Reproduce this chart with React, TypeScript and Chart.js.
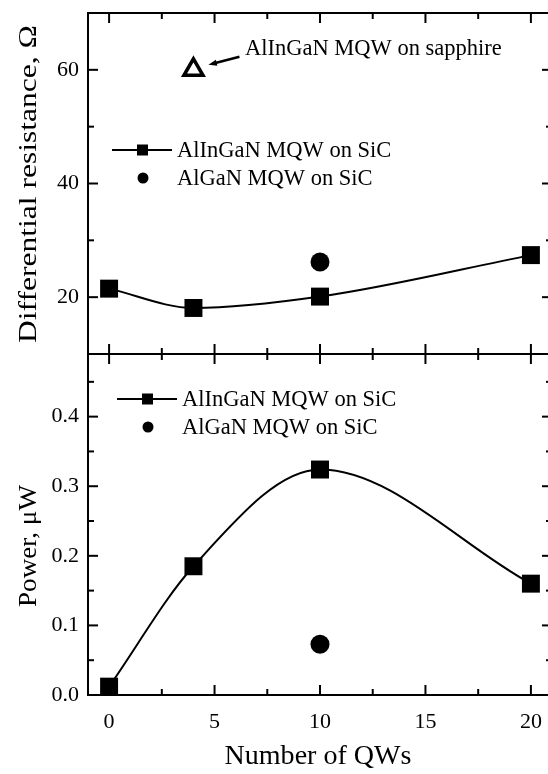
import React, { useEffect, useRef } from 'react';
import { Chart, registerables } from 'chart.js';

Chart.register(...registerables);

// ---- data ----
const qwCounts = [0, 4, 10, 20];
const resistanceAlInGaNSiC = [21.5, 18.1, 20.1, 27.4];
const algaNQw = [10];
const resistanceAlGaNSiC = [26.2];
const sapphireQw = [4];
const resistanceSapphire = [60];
const powerAlInGaNSiC = [0.012, 0.185, 0.324, 0.16];
const powerAlGaNSiC = [0.073];

const xTickValues = [0, 5, 10, 15, 20];
const resTickValues = [20, 40, 60];
const powTickValues = [0.0, 0.1, 0.2, 0.3, 0.4];

const legendLabels = ['AlInGaN MQW on SiC', 'AlGaN MQW on SiC'];
const sapphireLabel = 'AlInGaN MQW on sapphire';
const xTitle = 'Number of QWs';
const resTitle = 'Differential resistance, \u03A9';
const powTitle = 'Power, \u03BCW';

const FONT = '"Liberation Serif", "Times New Roman", serif';

const pts = (xs: number[], ys: number[]) => xs.map((x, i) => ({ x, y: ys[i] }));

function fitText(ctx: CanvasRenderingContext2D, text: string, cx: number, cy: number, size: number, target: number, rotate: boolean) {
  ctx.save();
  ctx.font = `${size}px ${FONT}`;
  const w = ctx.measureText(text).width;
  const s = target / w;
  ctx.translate(cx, cy);
  if (rotate) ctx.rotate(-Math.PI / 2);
  ctx.scale(s, 1);
  ctx.textAlign = 'center';
  ctx.textBaseline = 'middle';
  ctx.fillStyle = '#000';
  ctx.fillText(text, 0, 0);
  ctx.restore();
}

const framePlugin = {
  id: 'frameTicks',
  afterDraw(chart: any) {
    const ctx: CanvasRenderingContext2D = chart.ctx;
    const { left, right, top, bottom } = chart.chartArea;
    const x = chart.scales.x;
    const yR = chart.scales.yR;
    const yP = chart.scales.yP;
    const mid = yR.bottom;
    ctx.save();
    ctx.strokeStyle = '#000';
    ctx.lineWidth = 2;
    ctx.strokeRect(left, top, right - left, bottom - top);
    ctx.beginPath();
    ctx.moveTo(left, mid);
    ctx.lineTo(right, mid);
    ctx.stroke();

    const line = (x1: number, y1: number, x2: number, y2: number) => {
      ctx.beginPath();
      ctx.moveTo(x1, y1);
      ctx.lineTo(x2, y2);
      ctx.stroke();
    };
    // x ticks
    for (let v = 0; v <= 20.01; v += 2.5) {
      const px = x.getPixelForValue(v);
      const major = Math.abs(v % 5) < 1e-6;
      const L = major ? 10 : 6;
      line(px, bottom, px, bottom - L);
      line(px, top, px, top + L);
      line(px, mid - L, px, mid + L);
    }
    // resistance ticks
    for (let v = 20; v <= 60; v += 10) {
      const py = yR.getPixelForValue(v);
      const L = v % 20 === 0 ? 10 : 6;
      line(left, py, left + L, py);
      line(right, py, right - L, py);
    }
    // power ticks
    for (let i = 1; i <= 9; i++) {
      const v = i * 0.05;
      const py = yP.getPixelForValue(v);
      const L = i % 2 === 0 ? 10 : 6;
      line(left, py, left + L, py);
      line(right, py, right - L, py);
    }

    // titles
    fitText(ctx, xTitle, 318, 757, 27, 187, false);
    fitText(ctx, resTitle, 29, 184, 26, 318, true);
    fitText(ctx, powTitle, 29, 546, 26, 122, true);

    // legends
    const drawLegend = (lx: number, ly: number, textX: number, gap: number) => {
      ctx.lineWidth = 2;
      line(lx, ly, lx + 60, ly);
      ctx.fillStyle = '#000';
      ctx.fillRect(lx + 25, ly - 5.5, 11, 11);
      ctx.beginPath();
      ctx.arc(lx + 31, ly + gap, 5.5, 0, Math.PI * 2);
      ctx.fill();
      ctx.font = `22.5px ${FONT}`;
      ctx.textAlign = 'left';
      ctx.textBaseline = 'middle';
      ctx.fillText(legendLabels[0], textX, ly + 1);
      ctx.fillText(legendLabels[1], textX, ly + gap + 1);
    };
    drawLegend(112, 150, 177, 28);
    drawLegend(117, 399, 182, 28);

    // sapphire annotation
    const tx = x.getPixelForValue(sapphireQw[0]);
    const ty = yR.getPixelForValue(resistanceSapphire[0]);
    ctx.font = `22.5px ${FONT}`;
    ctx.textAlign = 'left';
    ctx.textBaseline = 'alphabetic';
    ctx.fillText(sapphireLabel, 245, 55);
    // arrow
    const ax1 = tx + 46, ay1 = ty - 13;
    const ax2 = tx + 15, ay2 = ty - 5;
    ctx.lineWidth = 2.5;
    line(ax1, ay1, ax2 + 4, ay2 - 1);
    const ang = Math.atan2(ay2 - ay1, ax2 - ax1);
    ctx.beginPath();
    ctx.moveTo(ax2, ay2);
    ctx.lineTo(ax2 - 9 * Math.cos(ang - 0.35), ay2 - 9 * Math.sin(ang - 0.35));
    ctx.lineTo(ax2 - 9 * Math.cos(ang + 0.35), ay2 - 9 * Math.sin(ang + 0.35));
    ctx.closePath();
    ctx.fill();
    ctx.restore();
  },
};

const noPadY = (s: any) => { s.width = 88; s.paddingTop = 0; s.paddingBottom = 0; };

export default function App() {
  const ref = useRef<HTMLCanvasElement>(null);
  useEffect(() => {
    if (!ref.current) return;
    const tickFont = { family: FONT, size: 22 };
    const chart = new Chart(ref.current, {
      type: 'line',
      data: {
        datasets: [
          {
            label: legendLabels[0],
            data: pts(qwCounts, resistanceAlInGaNSiC),
            yAxisID: 'yR',
            borderColor: '#000',
            backgroundColor: '#000',
            borderWidth: 2,
            cubicInterpolationMode: 'monotone',
            pointStyle: 'rect',
            pointRadius: 12.7,
            pointBorderWidth: 0,
          },
          {
            label: legendLabels[1],
            data: pts(algaNQw, resistanceAlGaNSiC),
            yAxisID: 'yR',
            showLine: false,
            borderColor: '#000',
            backgroundColor: '#000',
            pointStyle: 'circle',
            pointRadius: 9.5,
            pointBorderWidth: 0,
          },
          {
            label: sapphireLabel,
            data: pts(sapphireQw, resistanceSapphire),
            yAxisID: 'yR',
            showLine: false,
            borderColor: '#000',
            backgroundColor: '#fff',
            pointStyle: 'triangle',
            pointRadius: 11,
            pointBorderWidth: 3.5,
          },
          {
            label: legendLabels[0] + ' (power)',
            data: pts(qwCounts, powerAlInGaNSiC),
            yAxisID: 'yP',
            borderColor: '#000',
            backgroundColor: '#000',
            borderWidth: 2,
            cubicInterpolationMode: 'monotone',
            pointStyle: 'rect',
            pointRadius: 12.7,
            pointBorderWidth: 0,
          },
          {
            label: legendLabels[1] + ' (power)',
            data: pts(algaNQw, powerAlGaNSiC),
            yAxisID: 'yP',
            showLine: false,
            borderColor: '#000',
            backgroundColor: '#000',
            pointStyle: 'circle',
            pointRadius: 9.5,
            pointBorderWidth: 0,
          },
        ],
      },
      options: {
        responsive: false,
        animation: false,
        events: [],
        clip: false as any,
        layout: { autoPadding: false, padding: { left: 0, top: 13, right: 8, bottom: 0 } },
        plugins: { legend: { display: false }, tooltip: { enabled: false } },
        scales: {
          x: {
            type: 'linear',
            min: -1,
            max: 21,
            position: 'bottom',
            grid: { display: false, drawTicks: false },
            border: { display: false },
            afterBuildTicks: (s: any) => { s.ticks = xTickValues.map((v) => ({ value: v })); },
            ticks: { font: tickFont, color: '#000', padding: 14, autoSkip: false, maxRotation: 0, callback: (v: any) => String(v) },
            afterFit: (s: any) => { s.height = 79; s.paddingLeft = 0; s.paddingRight = 0; },
          },
          yP: {
            type: 'linear',
            position: 'left',
            stack: 'panels',
            stackWeight: 1,
            min: 0,
            max: 0.49,
            grid: { display: false, drawTicks: false },
            border: { display: false },
            afterBuildTicks: (s: any) => { s.ticks = powTickValues.map((v) => ({ value: v })); },
            ticks: { font: tickFont, color: '#000', padding: 9, callback: (v: any) => Number(v).toFixed(1) },
            afterFit: noPadY,
          },
          yR: {
            type: 'linear',
            position: 'left',
            stack: 'panels',
            stackWeight: 1,
            min: 10,
            max: 70,
            grid: { display: false, drawTicks: false },
            border: { display: false },
            afterBuildTicks: (s: any) => { s.ticks = resTickValues.map((v) => ({ value: v })); },
            ticks: { font: tickFont, color: '#000', padding: 9, callback: (v: any) => String(v) },
            afterFit: noPadY,
          },
        },
      } as any,
      plugins: [framePlugin],
    });
    return () => chart.destroy();
  }, []);
  return (
    <div style={{ position: 'fixed', left: 0, top: 0, width: 548, height: 774, overflow: 'hidden', background: '#fff' }}>
      <canvas ref={ref} width={560} height={774} style={{ display: 'block' }} />
    </div>
  );
}
